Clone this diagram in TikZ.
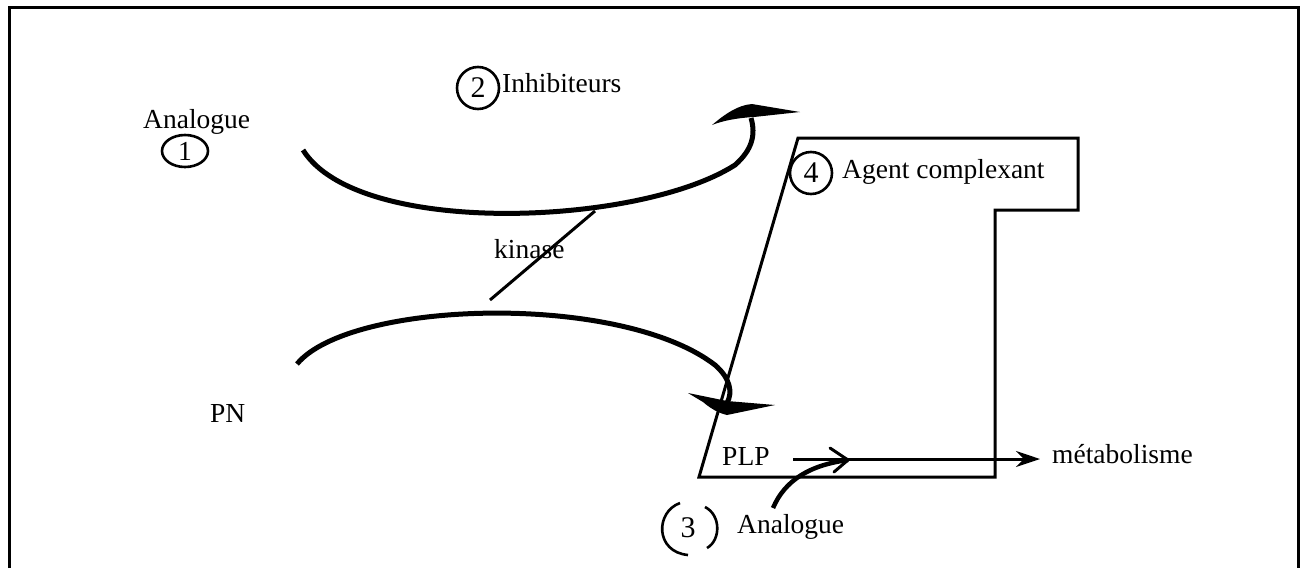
\documentclass[tikz,border=0pt]{standalone}
\usepackage{fontspec}
\setmainfont{Liberation Serif}
\usetikzlibrary{arrows.meta,shapes.geometric}
\begin{document}
\begin{tikzpicture}[x=1pt,y=-1pt,
  lbl/.style={inner sep=0pt, anchor=base west, font=\fontsize{27.5}{30}\selectfont},
  numc/.style={draw, circle, line width=2.6pt, minimum size=42pt, inner sep=0pt, font=\fontsize{30}{32}\selectfont},
  thinline/.style={line width=3pt},
  flow/.style={line width=5pt},
  headfill/.style={fill=black}]
\useasboundingbox (0,0) rectangle (1303,568);

% frame
\draw[thinline] (9,568) -- (9,7) -- (1298,7) -- (1298,568);

% labels
\node[lbl] (an1) at (143,128) {Analogue};
\node[draw, ellipse, line width=2.6pt, minimum width=46pt, minimum height=32pt, inner sep=0pt,
      font=\fontsize{27.5}{30}\selectfont] (c1) at (185,151) {1};
\node[numc] (c2) at (478,88) {2};
\node[lbl] (inh) at (502,92) {Inhibiteurs};
\node[lbl] (kin) at (494,258) {kinase};
\node[lbl] (pn) at (210,422) {PN};
\node[lbl] (plp) at (722,465) {PLP};
\node[lbl] (met) at (1052,463) {métabolisme};
\node[lbl] (an3) at (737,533) {Analogue};
\node[inner sep=0pt, font=\fontsize{30}{32}\selectfont] (n3) at (688,528) {3};
\node[numc] (c4) at (811,173) {4};
\node[lbl] (agc) at (842,178) {Agent complexant};

% compartment outline
\coordinate (p1) at (798,138);
\coordinate (p2) at (1078,138);
\coordinate (p3) at (1078,210);
\coordinate (p4) at (995,210);
\coordinate (p5) at (995,477);
\coordinate (p6) at (699,477);
\draw[thinline, line join=miter] (p1) -- (p2) -- (p3) -- (p4) -- (p5) -- (p6) -- cycle;

% upper arc with arrowhead
\coordinate (ta) at (303,150);
\coordinate (tm) at (735,165);
\coordinate (tb) at (751,118);
\draw[flow] (ta) .. controls (358,238) and (640,226) .. (tm) .. controls (752,150) and (756,135) .. (tb);
\fill[headfill] (712,125) .. controls (725,114) and (738,105) .. (752,104) -- (800,112) -- (754,117)
   .. controls (736,118) and (722,121) .. (712,125) -- cycle;

% lower arc with arrowhead
\coordinate (ba) at (297,364);
\coordinate (bm) at (715,365);
\coordinate (bb) at (727,403);
\draw[flow] (ba) .. controls (350,300) and (620,292) .. (bm) .. controls (730,378) and (733,392) .. (bb);
\fill[headfill] (688,393) -- (727,401) -- (775,405) -- (727,415) .. controls (718,413) and (710,408) .. (703,402) -- cycle;

% kinase link
\coordinate (k1) at (595,211);
\coordinate (k2) at (490,300);
\draw[thinline] (k1) -- (k2);

% PLP to metabolism
\coordinate (l1) at (793,459);
\coordinate (l2) at (1040,459);
\draw[thinline, -{Stealth[length=24pt, width=16pt]}] (l1) -- (l2);

% analogue entering the PLP flow
\coordinate (a1) at (773,508);
\coordinate (a2) at (848,460);
\draw[line width=4.5pt] (a1) .. controls (785,480) and (810,465) .. (a2);
\draw[thinline, line cap=round, line join=round] (830,448) -- (a2) -- (834,472);

% enclosing marks around 3
\draw[line width=2.6pt] (680,503) .. controls (655,512) and (655,552) .. (688,555);
\draw[line width=2.6pt] (705,507) .. controls (721,515) and (721,540) .. (707,548);

\end{tikzpicture}
\end{document}
